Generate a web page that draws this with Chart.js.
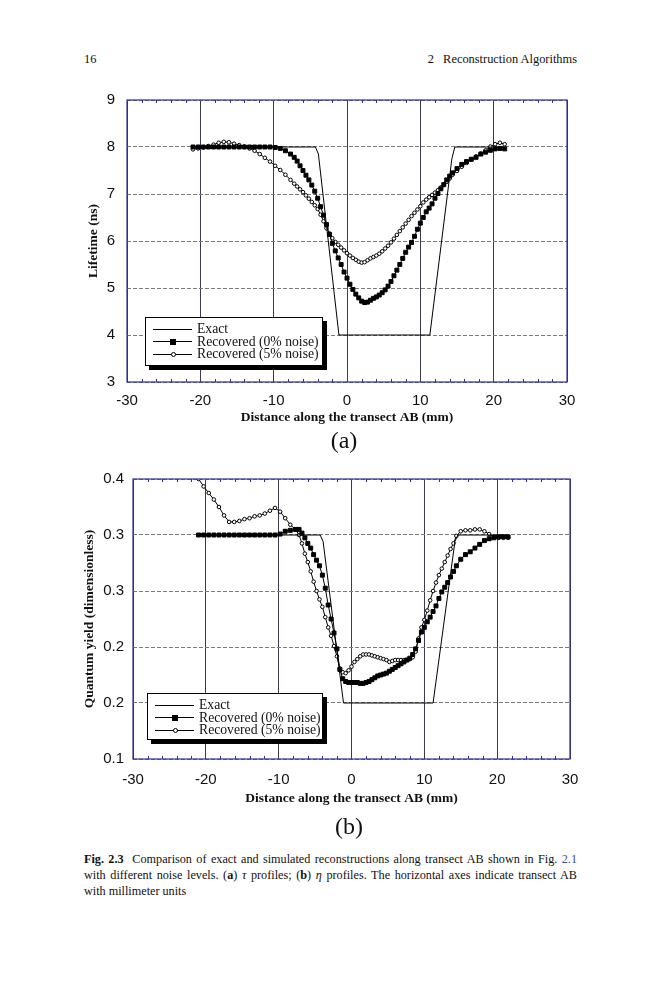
<!DOCTYPE html>
<html>
<head>
<meta charset="utf-8">
<title>Fig. 2.3</title>
<script src="https://cdn.jsdelivr.net/npm/chart.js@4.4.1/dist/chart.umd.min.js"></script>
<style>
  body { margin: 0; background: #fff; }
  #page { position: relative; width: 659px; height: 1000px; font-family: "Liberation Serif", "Times New Roman", serif; color: #111; overflow: hidden; }
  .abs { position: absolute; }
  canvas.plot { position: absolute; }
  .legend { position: absolute; box-sizing: border-box; border: 1px solid #000; box-shadow: 4px 4px 0 #000; background: #fff;
            padding: 5px 0 0 7px; font-size: 13.7px; line-height: 12.6px; }
  .legend .row { height: 12.6px; display: flex; align-items: center; white-space: nowrap; }
  .legend .sample { position: relative; display: inline-block; width: 39px; height: 1px; background: #000; margin-right: 5px; }
  .legend .sq { position: absolute; left: 17px; top: -2.5px; width: 6px; height: 6px; background: #000; }
  .legend .ci { position: absolute; left: 17.5px; top: -2px; width: 3px; height: 3px; border: 1px solid #000; border-radius: 50%; background: #fff; }
  .panel { font-size: 24px; width: 60px; text-align: center; line-height: 28px; }
  .cap { font-size: 12.2px; line-height: 15.8px; width: 493px; left: 84px; }
  .cap div { text-align: justify; text-align-last: justify; white-space: nowrap; }
  .cap div.last { text-align-last: left; }
</style>
</head>
<body>
<div id="page">
  <div class="abs" style="left:84px; top:52px; font-size:12.4px;">16</div>
  <div class="abs" style="right:82px; top:52px; font-size:12.4px;">2&nbsp;&nbsp;&nbsp;Reconstruction Algorithms</div>

  <canvas id="tauChart" class="plot" width="500" height="340" style="left:80px; top:90px;"></canvas>
  <div class="legend" style="left:145px; top:317px; width:178px; height:49px;">
    <div class="row"><span class="sample"></span>Exact</div>
    <div class="row"><span class="sample"><i class="sq"></i></span>Recovered (0% noise)</div>
    <div class="row"><span class="sample"><i class="ci"></i></span>Recovered (5% noise)</div>
  </div>
  <div class="abs panel" style="left:314px; top:426px;">(a)</div>

  <canvas id="etaChart" class="plot" width="500" height="345" style="left:80px; top:468px;"></canvas>
  <div class="legend" style="left:147px; top:693px; width:176px; height:47px;">
    <div class="row"><span class="sample"></span>Exact</div>
    <div class="row"><span class="sample"><i class="sq"></i></span>Recovered (0% noise)</div>
    <div class="row"><span class="sample"><i class="ci"></i></span>Recovered (5% noise)</div>
  </div>
  <div class="abs panel" style="left:319px; top:812px;">(b)</div>

  <div class="abs cap" style="top:852px;">
    <div><b>Fig. 2.3</b>&nbsp;&nbsp;Comparison of exact and simulated reconstructions along transect AB shown in Fig. <span style="color:#3a4ea6">2.1</span></div>
    <div>with different noise levels. (<b>a</b>) <i>τ</i> profiles; (<b>b</b>) <i>η</i> profiles. The horizontal axes indicate transect AB</div>
    <div class="last">with millimeter units</div>
  </div>
</div>

<script>
// tick labels
const xTickLabels = ['-30', '-20', '-10', '0', '10', '20', '30'];
const tauTickLabels = ['3', '4', '5', '6', '7', '8', '9'];
const etaTickLabels = ['0.1', '0.2', '0.2', '0.3', '0.3', '0.4'];

// positions along the transect (mm), shared by the recovered profiles
const distance = [
    -21.0, -20.3, -19.6, -18.9, -18.2, -17.5, -16.8, -16.1, -15.4, -14.7,
    -14.0, -13.3, -12.6, -11.9, -11.2, -10.5, -9.8, -9.1, -8.4, -7.7,
    -7.2, -6.8, -6.4, -6.0, -5.6, -5.2, -4.8, -4.4, -4.0, -3.6,
    -3.2, -2.8, -2.4, -2.0, -1.6, -1.2, -0.8, -0.4, 0.0, 0.4,
    0.8, 1.2, 1.6, 2.0, 2.4, 2.8, 3.2, 3.6, 4.0, 4.4,
    4.8, 5.2, 5.6, 6.0, 6.4, 6.8, 7.2, 7.6, 8.0, 8.4,
    8.8, 9.2, 9.6, 10.0, 10.4, 10.8, 11.2, 11.6, 12.0, 12.4,
    12.8, 13.2, 13.6, 14.0, 14.4,
    15.0, 15.65, 16.3, 16.95, 17.6, 18.25, 18.9, 19.55, 20.2, 20.85, 21.5
];

// (a) lifetime profiles, ns
const tauExactX = [-21.0, -4.3, -3.9, -1.1, 11.3, 14.3, 14.7, 21.5];
const tauExactY = [8, 8, 7.85, 4, 4, 7.75, 8, 8];
const tau0 = [
    8.00, 8.00, 8.00, 8.00, 8.00, 8.00, 8.00, 8.00, 8.00, 8.00,
    8.00, 8.00, 8.00, 8.00, 8.00, 8.00, 7.99, 7.97, 7.92, 7.85,
    7.78, 7.70, 7.60, 7.50, 7.40, 7.30, 7.19, 7.06, 6.91, 6.73,
    6.55, 6.35, 6.14, 5.95, 5.79, 5.64, 5.50, 5.34, 5.21, 5.08,
    4.97, 4.87, 4.79, 4.72, 4.69, 4.70, 4.74, 4.78, 4.81, 4.85,
    4.90, 4.96, 5.04, 5.14, 5.26, 5.38, 5.50, 5.63, 5.76, 5.87,
    5.97, 6.10, 6.25, 6.38, 6.50, 6.62, 6.70, 6.79, 6.91, 7.01,
    7.11, 7.20, 7.30, 7.38, 7.45,
    7.54, 7.63, 7.69, 7.74, 7.78, 7.85, 7.89, 7.93, 7.96, 7.97, 7.96
];
const tau5 = [
    7.95, 7.97, 7.99, 8.02, 8.05, 8.09, 8.11, 8.10, 8.07, 8.04,
    8.01, 7.97, 7.92, 7.85, 7.77, 7.69, 7.60, 7.51, 7.41, 7.30,
    7.22, 7.16, 7.10, 7.04, 6.97, 6.90, 6.83, 6.76, 6.68, 6.56,
    6.42, 6.27, 6.16, 6.06, 5.98, 5.92, 5.86, 5.80, 5.74, 5.69,
    5.64, 5.60, 5.56, 5.54, 5.55, 5.59, 5.63, 5.66, 5.69, 5.73,
    5.78, 5.84, 5.90, 5.97, 6.05, 6.13, 6.21, 6.29, 6.37, 6.45,
    6.53, 6.60, 6.67, 6.74, 6.82, 6.88, 6.93, 6.98, 7.03, 7.08,
    7.14, 7.19, 7.26, 7.33, 7.41,
    7.49, 7.58, 7.66, 7.73, 7.80, 7.86, 7.93, 8.01, 8.06, 8.09, 8.06
];

// (b) quantum yield profiles
const etaExactX = [-21.0, -4.3, -3.9, -1.1, 11.2, 14.2, 14.6, 21.5];
const etaExactY = [0.34, 0.34, 0.333, 0.16, 0.16, 0.333, 0.34, 0.34];
const eta0 = [
    0.340, 0.340, 0.340, 0.340, 0.340, 0.340, 0.340, 0.340, 0.340, 0.340,
    0.340, 0.340, 0.340, 0.340, 0.340, 0.340, 0.341, 0.344, 0.345, 0.346,
    0.346, 0.342, 0.337, 0.331, 0.326, 0.319, 0.313, 0.307, 0.297, 0.283,
    0.265, 0.250, 0.235, 0.218, 0.196, 0.186, 0.183, 0.182, 0.182, 0.182,
    0.182, 0.181, 0.181, 0.182, 0.183, 0.185, 0.187, 0.189, 0.190, 0.191,
    0.192, 0.194, 0.196, 0.198, 0.200, 0.202, 0.204, 0.206, 0.208, 0.212,
    0.218, 0.227, 0.236, 0.241, 0.247, 0.252, 0.258, 0.264, 0.272, 0.279,
    0.284, 0.289, 0.295, 0.301, 0.307,
    0.314, 0.319, 0.322, 0.326, 0.330, 0.334, 0.336, 0.337, 0.338, 0.338, 0.338
];
const eta5 = [
    0.400, 0.392, 0.385, 0.378, 0.370, 0.361, 0.354, 0.354, 0.355, 0.357,
    0.358, 0.360, 0.361, 0.363, 0.366, 0.369, 0.365, 0.358, 0.351, 0.346,
    0.340, 0.331, 0.320, 0.311, 0.301, 0.290, 0.280, 0.271, 0.263, 0.252,
    0.241, 0.232, 0.221, 0.210, 0.197, 0.193, 0.192, 0.195, 0.199, 0.204,
    0.207, 0.210, 0.212, 0.212, 0.212, 0.211, 0.210, 0.209, 0.208, 0.207,
    0.206, 0.204, 0.205, 0.206, 0.206, 0.206, 0.206, 0.206, 0.207, 0.209,
    0.215, 0.229, 0.241, 0.249, 0.259, 0.270, 0.280, 0.289, 0.297, 0.304,
    0.311, 0.318, 0.325, 0.331, 0.339,
    0.344, 0.345, 0.345, 0.346, 0.346, 0.344, 0.341, 0.338, 0.337, 0.337, 0.337
];

const toPoints = (xs, ys) => xs.map((x, i) => ({ x: x, y: ys[i] }));

// blue frame and small inner ticks along top and bottom
const framePlugin = {
    id: 'frame',
    afterDatasetsDraw(chart, args, opts) {
        const { ctx, chartArea: a, scales: { x } } = chart;
        ctx.save();
        ctx.strokeStyle = opts.color;
        ctx.lineWidth = 1.2;
        ctx.strokeRect(a.left, a.top, a.right - a.left, a.bottom - a.top);
        ctx.lineWidth = 1;
        ctx.beginPath();
        for (let v = -28; v < 30; v += 2) {
            if (v % 10 === 0) continue;
            const px = Math.round(x.getPixelForValue(v)) + 0.5;
            ctx.moveTo(px, a.top); ctx.lineTo(px, a.top + 3);
            ctx.moveTo(px, a.bottom); ctx.lineTo(px, a.bottom - 3);
        }
        ctx.stroke();
        ctx.restore();
    }
};

window.renderProfile = (canvasId, cfg) => {
    const ctx = document.getElementById(canvasId).getContext('2d');
    return new Chart(ctx, {
        type: 'line',
        data: {
            datasets: [
                {
                    label: 'Exact',
                    data: toPoints(cfg.exactX, cfg.exactY),
                    borderColor: '#000', borderWidth: 1, pointRadius: 0, tension: 0
                },
                {
                    label: 'Recovered (0% noise)',
                    data: toPoints(distance, cfg.noise0),
                    borderColor: '#000', borderWidth: 1,
                    pointStyle: 'rect', pointRadius: 2.8, pointBorderWidth: 1,
                    pointBackgroundColor: '#000', pointBorderColor: '#000'
                },
                {
                    label: 'Recovered (5% noise)',
                    data: toPoints(distance, cfg.noise5),
                    borderColor: '#000', borderWidth: 1,
                    pointStyle: 'circle', pointRadius: 1.8, pointBorderWidth: 1,
                    pointBackgroundColor: '#fff', pointBorderColor: '#000'
                }
            ]
        },
        options: {
            responsive: false,
            animation: false,
            layout: { padding: cfg.padding },
            plugins: {
                legend: { display: false },
                tooltip: { enabled: false },
                frame: { color: '#2d2d9c' }
            },
            scales: {
                x: {
                    type: 'linear', min: -30, max: 30,
                    // fixed band height, and no extra room for the end labels
                    afterFit: (scale) => {
                        scale.height = cfg.xHeight;
                        scale.paddingLeft = 0;
                        scale.paddingRight = 0;
                    },
                    ticks: {
                        stepSize: 10, padding: cfg.xTickPad, color: '#111',
                        font: { family: '"Liberation Sans", Arial, sans-serif', size: 15 },
                        callback: (value, index) => xTickLabels[index]
                    },
                    grid: {
                        drawTicks: false,
                        color: (c) => (c.tick && c.tick.value === 0 ? cfg.zeroColor : '#3a3a48'),
                        lineWidth: 1
                    },
                    border: { display: false },
                    title: {
                        display: true, text: 'Distance along the transect AB (mm)', color: '#111',
                        font: { family: '"Liberation Serif", "Times New Roman", serif', size: 13.5, weight: 'bold' },
                        padding: { top: 0, bottom: cfg.xTitlePad }
                    }
                },
                y: {
                    type: 'linear', min: cfg.yMin, max: cfg.yMax,
                    afterFit: (scale) => {
                        scale.width = cfg.yWidth;
                        scale.paddingTop = 0;
                        scale.paddingBottom = 0;
                    },
                    ticks: {
                        stepSize: cfg.yStep, padding: cfg.yTickPad, color: '#111',
                        font: { family: '"Liberation Sans", Arial, sans-serif', size: 15 },
                        callback: (value, index) => cfg.yLabels[index]
                    },
                    grid: { drawTicks: false, color: '#7a7a7a', lineWidth: 1 },
                    border: { display: false, dash: [4, 2] },
                    title: {
                        display: true, text: cfg.yTitle, color: '#111',
                        font: { family: '"Liberation Serif", "Times New Roman", serif', size: 13.5, weight: 'bold' },
                        padding: { top: cfg.yTitlePad, bottom: 0 }
                    }
                }
            }
        },
        plugins: [framePlugin]
    });
};

renderProfile('tauChart', {
    exactX: tauExactX, exactY: tauExactY, noise0: tau0, noise5: tau5,
    yMin: 3, yMax: 9, yStep: 1, yLabels: tauTickLabels, yTitle: 'Lifetime (ns)',
    padding: { top: 10, right: 13, bottom: 0, left: 0 },
    xHeight: 48, yWidth: 47, xTickPad: 10, xTitlePad: 4, yTickPad: 12, yTitlePad: 5,
    zeroColor: '#3333b0'
});

renderProfile('etaChart', {
    exactX: etaExactX, exactY: etaExactY, noise0: eta0, noise5: eta5,
    yMin: 0.1, yMax: 0.4, yStep: 0.06, yLabels: etaTickLabels, yTitle: 'Quantum yield (dimensionless)',
    padding: { top: 11, right: 10, bottom: 0, left: 0 },
    xHeight: 54, yWidth: 53, xTickPad: 12, xTitlePad: 6, yTickPad: 9, yTitlePad: 1,
    zeroColor: '#3a3a48'
});
</script>
</body>
</html>
